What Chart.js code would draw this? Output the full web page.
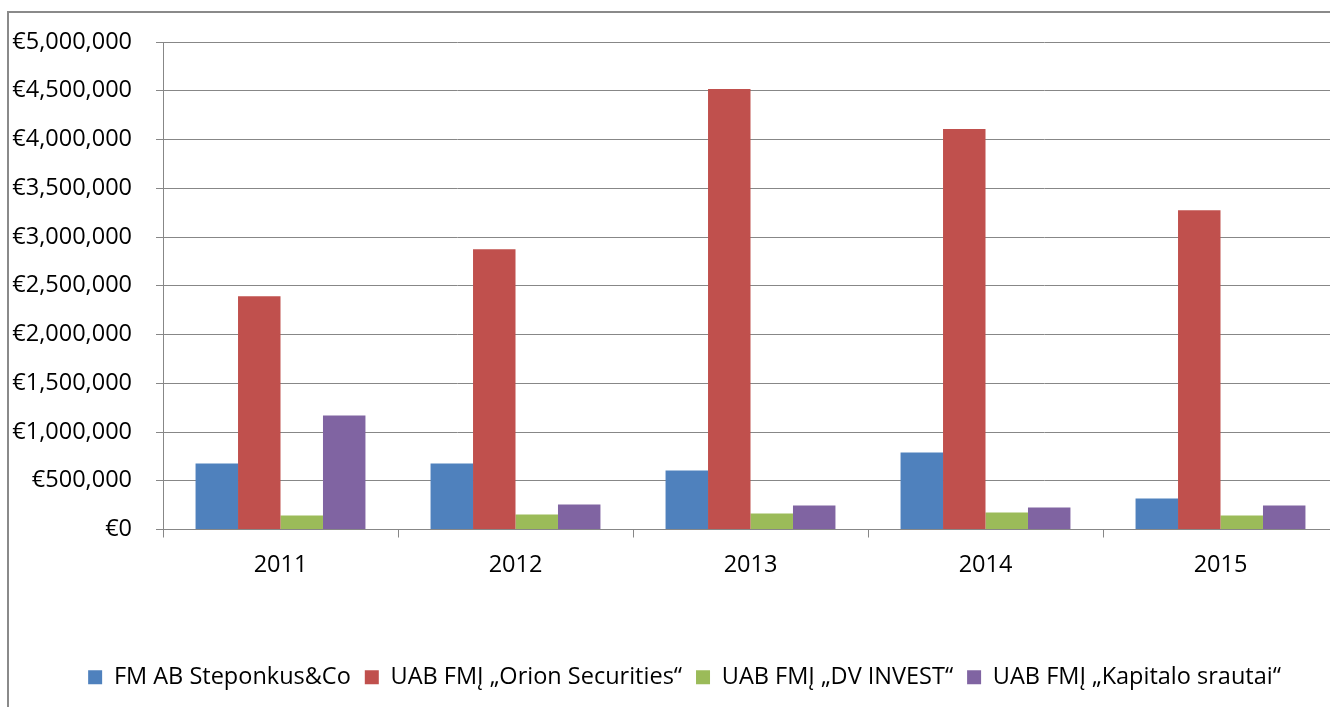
<!DOCTYPE html>
<html>
<head>
<meta charset="utf-8">
<script src="https://cdn.jsdelivr.net/npm/chart.js@4"></script>
<style>
  html, body { margin: 0; padding: 0; background: #fff; overflow: hidden; width: 1330px; height: 707px; }
  .frame { position: absolute; left: 7px; top: 11px; width: 1356px; height: 696px;
           border-left: 2px solid #8a8a8a; border-top: 2px solid #8a8a8a; box-sizing: border-box; }
  .wrap { position: absolute; left: 7px; top: 11px; width: 1356px; height: 696px; }
</style>
</head>
<body>
<div class="frame"></div>
<div class="wrap"><canvas id="chart"></canvas></div>
<script>
// Duomenys (EUR)
const years = ['2011', '2012', '2013', '2014', '2015'];
const steponkus = [677000, 677000, 606000, 790000, 318000];
const orion     = [2392000, 2875000, 4517000, 4107000, 3275000];
const dvInvest  = [144000, 154000, 164000, 175000, 144000];
const kapitalo  = [1170000, 257000, 246000, 226000, 246000];
const seriesNames = ['FM AB Steponkus&Co', 'UAB FMĮ „Orion Securities“', 'UAB FMĮ „DV INVEST“', 'UAB FMĮ „Kapitalo srautai“'];
const yTicks = [0, 500000, 1000000, 1500000, 2000000, 2500000, 3000000, 3500000, 4000000, 4500000, 5000000];

const FONT = "'Open Sans', 'Noto Sans', sans-serif";
const GRID = '#878787';
const colors = ['#4F81BD', '#C0504D', '#9BBB59', '#8064A2'];
const values = [steponkus, orion, dvInvest, kapitalo];

// legenda centre ~ 12 px right of the canvas centre
const legendShift = {
  id: 'legendShift',
  afterLayout(chart) {
    const lg = chart.legend;
    if (!lg) return;
    lg.left += 12;
    lg.right += 12;
  }
};

const ctx = document.getElementById('chart');
new Chart(ctx, {
  type: 'bar',
  data: {
    labels: years,
    datasets: values.map((v, i) => ({
      label: seriesNames[i],
      data: v,
      backgroundColor: colors[i],
      borderWidth: 0,
      categoryPercentage: 0.723,
      barPercentage: 1
    }))
  },
  options: {
    responsive: true,
    maintainAspectRatio: false,
    animation: false,
    layout: { padding: { top: 31, right: 25, bottom: 8, left: 0 } },
    plugins: {
      tooltip: { enabled: false },
      legend: {
        position: 'bottom',
        labels: {
          color: '#000',
          font: { family: FONT, size: 23.5 },
          boxWidth: 14,
          boxHeight: 14,
          padding: 14
        }
      }
    },
    scales: {
      x: {
        afterFit: (s) => { s.height = 122; },
        grid: { display: true, drawOnChartArea: false, offset: true, color: GRID, tickLength: 8 },
        border: { color: GRID, width: 1 },
        ticks: { color: '#000', font: { family: FONT, size: 23.5 }, padding: 14 }
      },
      y: {
        min: 0,
        max: 5000000,
        afterFit: (s) => { s.width = 156; s.paddingTop = 0; s.paddingBottom = 0; },
        afterBuildTicks: (s) => { s.ticks = yTicks.map(v => ({ value: v })); },
        grid: { color: GRID, tickLength: 7 },
        border: { color: GRID, width: 1 },
        ticks: {
          color: '#000',
          font: { family: FONT, size: 23.5 },
          padding: 24,
          callback: (v) => '€' + Number(v).toLocaleString('en-US')
        }
      }
    }
  },
  plugins: [legendShift]
});
</script>
</body>
</html>
